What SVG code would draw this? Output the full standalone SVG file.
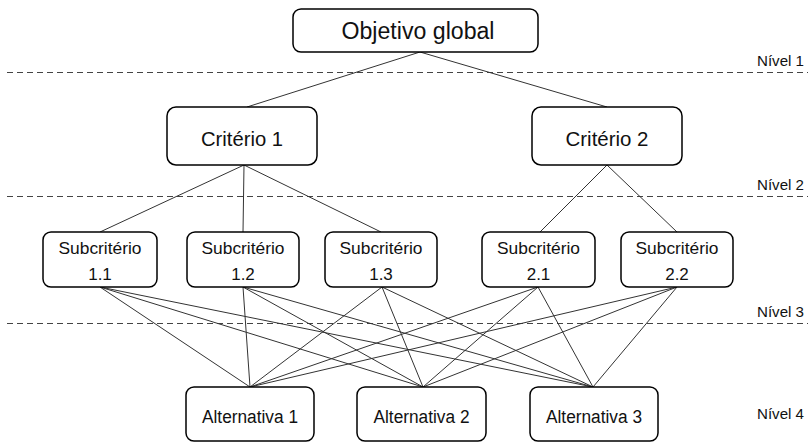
<svg xmlns="http://www.w3.org/2000/svg" width="808" height="443" viewBox="0 0 808 443">
<style>
.box{fill:#fff;stroke:#000;stroke-width:1.5}
.t{font-family:"Liberation Sans",Arial,sans-serif;fill:#111;text-anchor:middle}
.lvl{font-family:"Liberation Sans",Arial,sans-serif;fill:#111;text-anchor:end;font-size:15px}
.dash{stroke:#444;stroke-width:1;stroke-dasharray:6 4;fill:none}
.c{stroke:#333;stroke-width:1;fill:none}
</style>
<rect width="808" height="443" fill="#fff"/>
<g id="levels">
<line class="dash" x1="7" y1="72.5" x2="808" y2="72.5"/>
<line class="dash" x1="7" y1="196.5" x2="808" y2="196.5"/>
<line class="dash" x1="7" y1="323.5" x2="808" y2="323.5"/>
<text class="lvl" x="804" y="66" textLength="47" lengthAdjust="spacingAndGlyphs">Nível 1</text>
<text class="lvl" x="804" y="190" textLength="47" lengthAdjust="spacingAndGlyphs">Nível 2</text>
<text class="lvl" x="804" y="317" textLength="47" lengthAdjust="spacingAndGlyphs">Nível 3</text>
<text class="lvl" x="804" y="419" textLength="47" lengthAdjust="spacingAndGlyphs">Nível 4</text>
</g>
<g id="connectors">
<line class="c" x1="420" y1="52" x2="247" y2="107"/>
<line class="c" x1="420" y1="52" x2="607" y2="107"/>
<line class="c" x1="244" y1="165" x2="100" y2="232"/>
<line class="c" x1="244" y1="165" x2="243" y2="232"/>
<line class="c" x1="244" y1="165" x2="381" y2="232"/>
<line class="c" x1="607" y1="165" x2="540" y2="232"/>
<line class="c" x1="607" y1="165" x2="677" y2="232"/>
<line class="c" x1="100" y1="287" x2="250" y2="387"/>
<line class="c" x1="100" y1="287" x2="423" y2="387"/>
<line class="c" x1="100" y1="287" x2="593" y2="387"/>
<line class="c" x1="243" y1="287" x2="250" y2="387"/>
<line class="c" x1="243" y1="287" x2="423" y2="387"/>
<line class="c" x1="243" y1="287" x2="593" y2="387"/>
<line class="c" x1="382" y1="287" x2="250" y2="387"/>
<line class="c" x1="382" y1="287" x2="423" y2="387"/>
<line class="c" x1="382" y1="287" x2="593" y2="387"/>
<line class="c" x1="538" y1="287" x2="250" y2="387"/>
<line class="c" x1="538" y1="287" x2="423" y2="387"/>
<line class="c" x1="538" y1="287" x2="593" y2="387"/>
<line class="c" x1="677" y1="287" x2="250" y2="387"/>
<line class="c" x1="677" y1="287" x2="423" y2="387"/>
<line class="c" x1="677" y1="287" x2="593" y2="387"/>
</g>
<g id="objetivo">
<rect class="box" x="293" y="9" width="245" height="43" rx="8"/>
<text class="t" x="418" y="39" font-size="23" textLength="153" lengthAdjust="spacingAndGlyphs">Objetivo global</text>
</g>
<g id="criterio1">
<rect class="box" x="167" y="107" width="150" height="58" rx="9"/>
<text class="t" x="242" y="146" font-size="21" textLength="82" lengthAdjust="spacingAndGlyphs">Critério 1</text>
</g>
<g id="criterio2">
<rect class="box" x="532" y="107" width="150" height="58" rx="9"/>
<text class="t" x="607" y="146" font-size="21" textLength="83" lengthAdjust="spacingAndGlyphs">Critério 2</text>
</g>
<g id="sub11">
<rect class="box" x="43" y="232" width="114" height="55" rx="8"/>
<text class="t" x="100" y="254" font-size="17" textLength="83" lengthAdjust="spacingAndGlyphs">Subcritério</text>
<text class="t" x="100" y="280" font-size="17">1.1</text>
</g>
<g id="sub12">
<rect class="box" x="187" y="232" width="112" height="55" rx="8"/>
<text class="t" x="243" y="254" font-size="17" textLength="83" lengthAdjust="spacingAndGlyphs">Subcritério</text>
<text class="t" x="243" y="280" font-size="17">1.2</text>
</g>
<g id="sub13">
<rect class="box" x="325" y="232" width="112" height="55" rx="8"/>
<text class="t" x="381" y="254" font-size="17" textLength="83" lengthAdjust="spacingAndGlyphs">Subcritério</text>
<text class="t" x="381" y="280" font-size="17">1.3</text>
</g>
<g id="sub21">
<rect class="box" x="482" y="232" width="113" height="55" rx="8"/>
<text class="t" x="538.5" y="254" font-size="17" textLength="83" lengthAdjust="spacingAndGlyphs">Subcritério</text>
<text class="t" x="538.5" y="280" font-size="17">2.1</text>
</g>
<g id="sub22">
<rect class="box" x="621" y="232" width="112" height="55" rx="8"/>
<text class="t" x="677" y="254" font-size="17" textLength="83" lengthAdjust="spacingAndGlyphs">Subcritério</text>
<text class="t" x="677" y="280" font-size="17">2.2</text>
</g>
<g id="alt1">
<rect class="box" x="186" y="387" width="128" height="54" rx="8"/>
<text class="t" x="250" y="423" font-size="18" textLength="96" lengthAdjust="spacingAndGlyphs">Alternativa 1</text>
</g>
<g id="alt2">
<rect class="box" x="357" y="387" width="129" height="54" rx="8"/>
<text class="t" x="421.5" y="423" font-size="18" textLength="96" lengthAdjust="spacingAndGlyphs">Alternativa 2</text>
</g>
<g id="alt3">
<rect class="box" x="530" y="387" width="128" height="54" rx="8"/>
<text class="t" x="594" y="423" font-size="18" textLength="96" lengthAdjust="spacingAndGlyphs">Alternativa 3</text>
</g>
</svg>
